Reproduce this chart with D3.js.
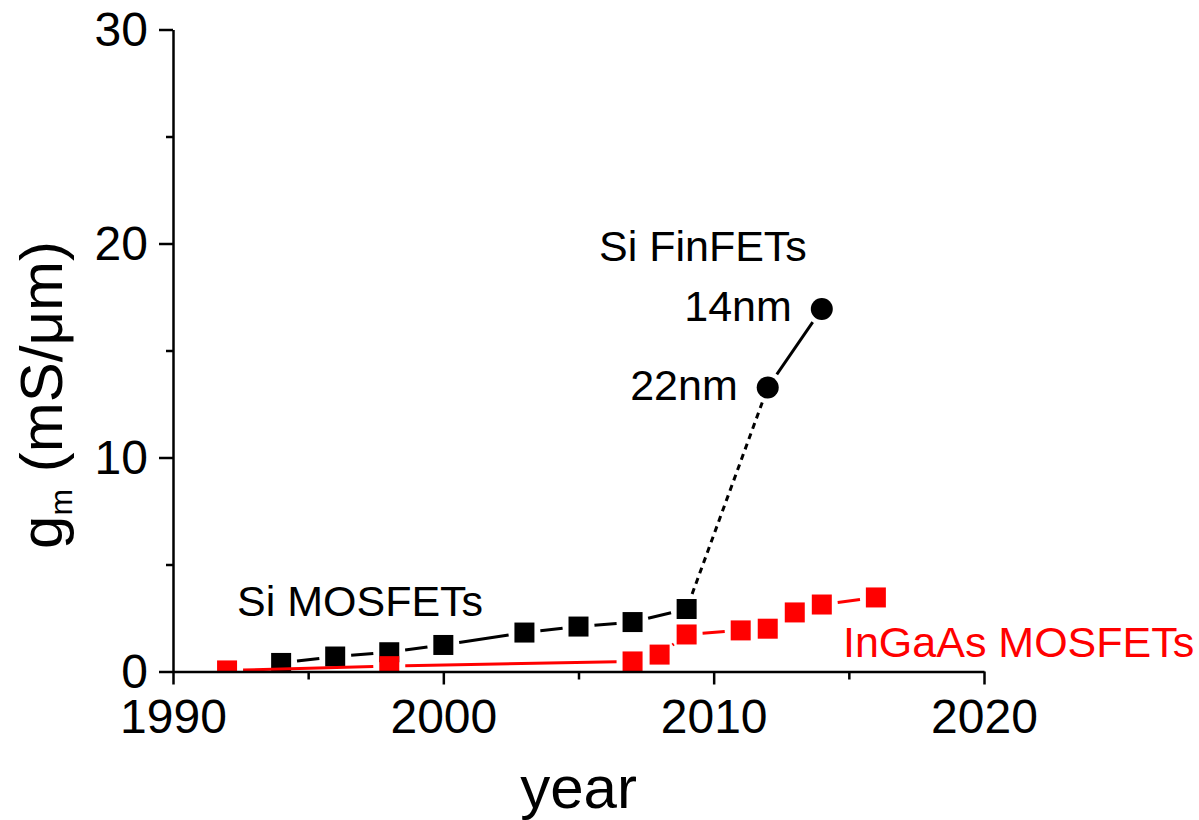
<!DOCTYPE html>
<html>
<head>
<meta charset="utf-8">
<script src="https://cdn.jsdelivr.net/npm/d3@7"></script>
<style>
  body { margin: 0; background: #fff; }
  svg { display: block; font-family: "Liberation Sans", Arial, sans-serif; }
</style>
</head>
<body>
<svg id="chart" width="1199" height="820"></svg>
<script>
// Si MOSFETs (black squares)
const siYears = [1994, 1996, 1998, 2000, 2003, 2005, 2007, 2009];
const siGm = [0.4, 0.7, 0.9, 1.24, 1.82, 2.1, 2.31, 2.92];

// Si FinFETs (black circles)
const finYears = [2012, 2014];
const finGm = [13.27, 16.94];
const finLabels = ["22nm", "14nm"];

// InGaAs MOSFETs (red squares)
const ingaasYears = [1992, 1998, 2007, 2008, 2009, 2011, 2012, 2013, 2014, 2016];
const ingaasGm = [0.05, 0.25, 0.47, 0.79, 1.73, 1.92, 2.0, 2.76, 3.13, 3.46];

const xMajor = [1990, 2000, 2010, 2020];
const xMinor = [1995, 2005, 2015];
const yMajor = [0, 10, 20, 30];
const yMinor = [5, 15, 25];

const svg = d3.select("#chart");

const x = d3.scaleLinear().domain([1990, 2020]).range([173, 984]);
const y = d3.scaleLinear().domain([0, 30]).range([671.5, 29.5]);

const gap = 16; // Origin-style gap between line and symbol

// clip marks to the plot area
svg.append("defs").append("clipPath").attr("id", "plot")
  .append("rect")
  .attr("x", x(1990)).attr("y", y(30) - 30)
  .attr("width", x(2020) - x(1990) + 30)
  .attr("height", y(0) - y(30) + 30);

function segments(xs, ys) {
  const pts = xs.map((d, i) => [x(d), y(ys[i])]);
  const out = [];
  for (let i = 0; i < pts.length - 1; i++) {
    const [x1, y1] = pts[i], [x2, y2] = pts[i + 1];
    const len = Math.hypot(x2 - x1, y2 - y1);
    if (len <= 2 * gap) continue;
    const ux = (x2 - x1) / len, uy = (y2 - y1) / len;
    out.push([x1 + ux * gap, y1 + uy * gap, x2 - ux * gap, y2 - uy * gap]);
  }
  return out;
}

function drawLines(g, segs, color, dash) {
  g.selectAll(null)
    .data(segs)
    .join("line")
    .attr("x1", (d) => d[0]).attr("y1", (d) => d[1])
    .attr("x2", (d) => d[2]).attr("y2", (d) => d[3])
    .attr("stroke", color)
    .attr("stroke-width", 3)
    .attr("stroke-dasharray", dash || null);
}

function drawSquares(g, xs, ys, color) {
  g.selectAll(null)
    .data(xs)
    .join("rect")
    .attr("x", (d) => x(d) - 10)
    .attr("y", (d, i) => y(ys[i]) - 10)
    .attr("width", 20)
    .attr("height", 20)
    .attr("fill", color);
}

const marks = svg.append("g").attr("clip-path", "url(#plot)");

// black series
const blackG = marks.append("g");
drawLines(blackG, segments(siYears, siGm), "#000");
drawLines(blackG, segments([siYears[siYears.length - 1], finYears[0]],
  [siGm[siGm.length - 1], finGm[0]]), "#000", "6,5");
drawLines(blackG, segments(finYears, finGm), "#000");
drawSquares(blackG, siYears, siGm, "#000");
blackG.selectAll(null)
  .data(finYears)
  .join("circle")
  .attr("cx", (d) => x(d))
  .attr("cy", (d, i) => y(finGm[i]))
  .attr("r", 11)
  .attr("fill", "#000");

// red series
const redG = marks.append("g");
drawLines(redG, segments(ingaasYears, ingaasGm), "#ff0000");
drawSquares(redG, ingaasYears, ingaasGm, "#ff0000");

// axes
const xAxis = svg.append("g").attr("transform", `translate(0,${y(0)})`);
xAxis.call(d3.axisBottom(x).tickValues(xMajor).tickSize(13).tickSizeOuter(0)
  .tickFormat(d3.format("d")));
xAxis.append("g").call(d3.axisBottom(x).tickValues(xMinor).tickSize(8)
  .tickFormat(""))
  .select(".domain").remove();

const yAxis = svg.append("g").attr("transform", `translate(${x(1990)},0)`);
yAxis.call(d3.axisLeft(y).tickValues(yMajor).tickSize(14).tickSizeOuter(0));
yAxis.append("g").call(d3.axisLeft(y).tickValues(yMinor).tickSize(7)
  .tickFormat(""))
  .select(".domain").remove();

svg.selectAll(".domain").attr("stroke-width", 2.5);
svg.selectAll(".tick line").attr("stroke-width", 2.5);
xAxis.selectAll(".tick text")
  .attr("font-size", 48)
  .attr("font-family", "Liberation Sans, Arial, sans-serif")
  .attr("fill", "#000")
  .attr("dy", null)
  .attr("y", 61);
yAxis.selectAll(".tick text")
  .attr("font-size", 48)
  .attr("font-family", "Liberation Sans, Arial, sans-serif")
  .attr("fill", "#000")
  .attr("x", -25)
  .attr("dy", "0.34em");

// axis titles
svg.append("text")
  .attr("x", (x(1990) + x(2020)) / 2)
  .attr("y", 808)
  .attr("text-anchor", "middle")
  .attr("font-size", 60)
  .text("year");

const yTitle = svg.append("text")
  .attr("transform", "translate(62,395) rotate(-90)")
  .attr("text-anchor", "middle")
  .attr("font-size", 60);
yTitle.append("tspan").text("g");
yTitle.append("tspan").attr("font-size", 32).attr("dy", 10).text("m");
yTitle.append("tspan").attr("dy", -10).text(" (mS/\u03bcm)");

// annotations
svg.append("text").attr("x", 237).attr("y", 616)
  .attr("font-size", 43).text("Si MOSFETs");
svg.append("text").attr("x", 599).attr("y", 261)
  .attr("font-size", 43).text("Si FinFETs");
svg.append("text").attr("x", 843).attr("y", 657)
  .attr("font-size", 43).attr("fill", "#ff0000").text("InGaAs MOSFETs");

svg.selectAll(null)
  .data(finYears)
  .join("text")
  .attr("x", (d) => x(d) - 30)
  .attr("y", (d, i) => y(finGm[i]) + 12)
  .attr("text-anchor", "end")
  .attr("font-size", 43)
  .text((d, i) => finLabels[i]);
</script>
</body>
</html>
